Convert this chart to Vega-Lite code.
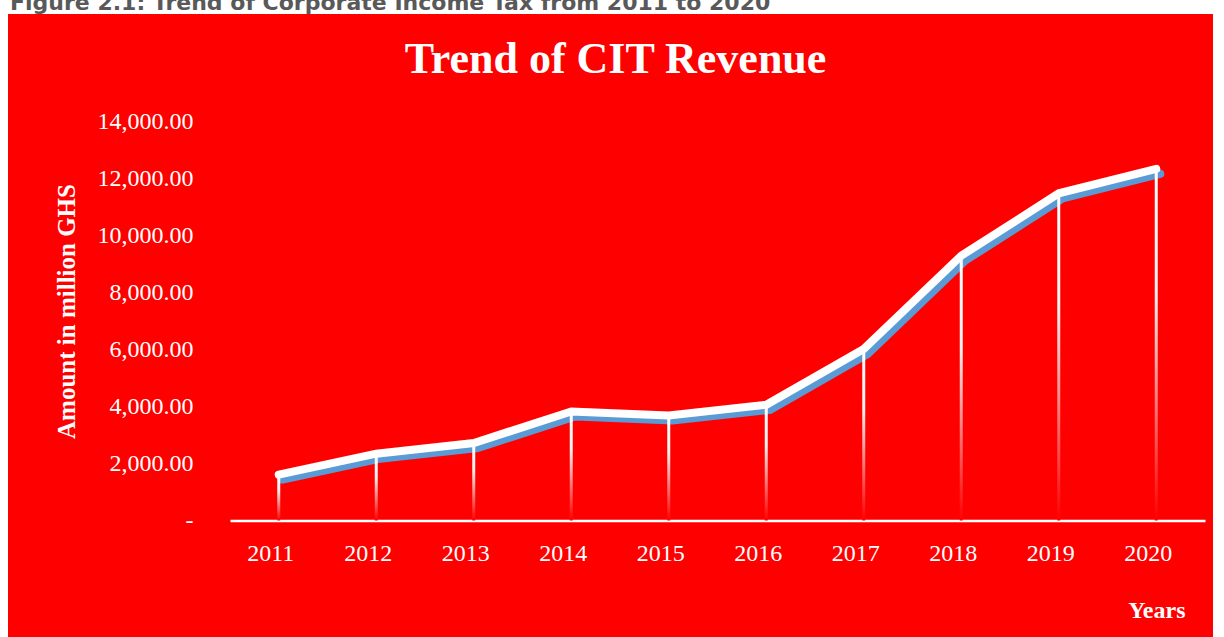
{
  "$schema": "https://vega.github.io/schema/vega-lite/v6.json",
  "width": 1205,
  "height": 623,
  "autosize": {"type": "none"},
  "padding": {"left": 8, "top": 14, "right": 11, "bottom": 0},
  "background": "white",
  "title": {
    "text": "Figure 2.1: Trend of Corporate Income Tax from 2011 to 2020",
    "anchor": "start",
    "frame": "group",
    "dx": 2,
    "offset": -18,
    "baseline": "alphabetic",
    "font": "DejaVu Sans",
    "fontSize": 22,
    "fontWeight": "bold",
    "color": "#595959"
  },
  "config": {"view": {"fill": "#FF0000", "stroke": null}},
  "data": {
    "values": [
      {"year": "2011", "amount": 1607},
      {"year": "2012", "amount": 2344},
      {"year": "2013", "amount": 2719},
      {"year": "2014", "amount": 3825},
      {"year": "2015", "amount": 3684},
      {"year": "2016", "amount": 4060},
      {"year": "2017", "amount": 6018},
      {"year": "2018", "amount": 9291},
      {"year": "2019", "amount": 11481},
      {"year": "2020", "amount": 12341}
    ]
  },
  "encoding": {
    "y": {
      "field": "amount",
      "type": "quantitative",
      "scale": {"domain": [0, 14000], "range": [506.5, 107.5], "nice": false, "zero": true},
      "axis": {
        "orient": "left",
        "offset": -185,
        "domain": false,
        "ticks": false,
        "tickSize": 0,
        "grid": false,
        "labelPadding": 0,
        "values": [0, 2000, 4000, 6000, 8000, 10000, 12000, 14000],
        "labelExpr": "datum.value == 0 ? '-\u00a0' : format(datum.value, ',.2f')",
        "labelFont": "Liberation Serif",
        "labelFontSize": 24,
        "labelColor": "white",
        "labelBaseline": "middle",
        "title": "Amount in million GHS",
        "titleFont": "Liberation Serif",
        "titleFontSize": 25,
        "titleFontWeight": "bold",
        "titleColor": "white",
        "titleAngle": 270,
        "titleX": -119,
        "titleY": 297,
        "titleAlign": "center",
        "titleBaseline": "alphabetic"
      }
    }
  },
  "layer": [
    {
      "mark": {"type": "line", "color": "#5B9BD5", "strokeWidth": 8, "strokeCap": "round", "xOffset": 4, "yOffset": 5},
      "encoding": {
        "x": {
          "field": "year",
          "type": "ordinal",
          "scale": {"type": "band", "range": [222, 1197], "paddingInner": 0, "paddingOuter": 0},
          "axis": {
            "orient": "bottom",
            "offset": -116.5,
            "domainColor": "white",
            "domainWidth": 2.5,
            "ticks": false,
            "tickSize": 0,
            "grid": false,
            "labelAngle": 0,
            "labelPadding": 40,
            "labelBaseline": "alphabetic",
            "labelOffset": -8,
            "labelFont": "Liberation Serif",
            "labelFontSize": 24,
            "labelColor": "white",
            "title": "Years",
            "titleFont": "Liberation Serif",
            "titleFontSize": 24,
            "titleFontWeight": "bold",
            "titleColor": "white",
            "titleX": 1177,
            "titleY": 96.5,
            "titleAlign": "right",
            "titleBaseline": "alphabetic"
          }
        }
      }
    },
    {
      "mark": {
        "type": "bar",
        "width": 3,
        "fill": {
          "gradient": "linear",
          "x1": 0, "y1": 0, "x2": 0, "y2": 1,
          "stops": [
            {"offset": 0, "color": "#FFFFFF"},
            {"offset": 0.35, "color": "#FFF0F0"},
            {"offset": 1, "color": "#FF0000"}
          ]
        }
      },
      "encoding": {
        "x": {
          "field": "year",
          "type": "ordinal",
          "scale": {"type": "band", "range": [222, 1197], "paddingInner": 0, "paddingOuter": 0},
          "axis": null
        }
      }
    },
    {
      "mark": {"type": "line", "color": "#FFFFFF", "strokeWidth": 8, "strokeCap": "round"},
      "encoding": {
        "x": {
          "field": "year",
          "type": "ordinal",
          "scale": {"type": "band", "range": [222, 1197], "paddingInner": 0, "paddingOuter": 0},
          "axis": {
            "orient": "top",
            "domain": false,
            "ticks": false,
            "labels": false,
            "grid": false,
            "title": "Trend of CIT Revenue",
            "titleFont": "Liberation Serif",
            "titleFontSize": 44,
            "titleFontWeight": "bold",
            "titleColor": "white",
            "titleX": 607,
            "titleY": 58,
            "titleAlign": "center",
            "titleBaseline": "alphabetic"
          }
        }
      }
    }
  ],
  "resolve": {"axis": {"x": "independent"}}
}
